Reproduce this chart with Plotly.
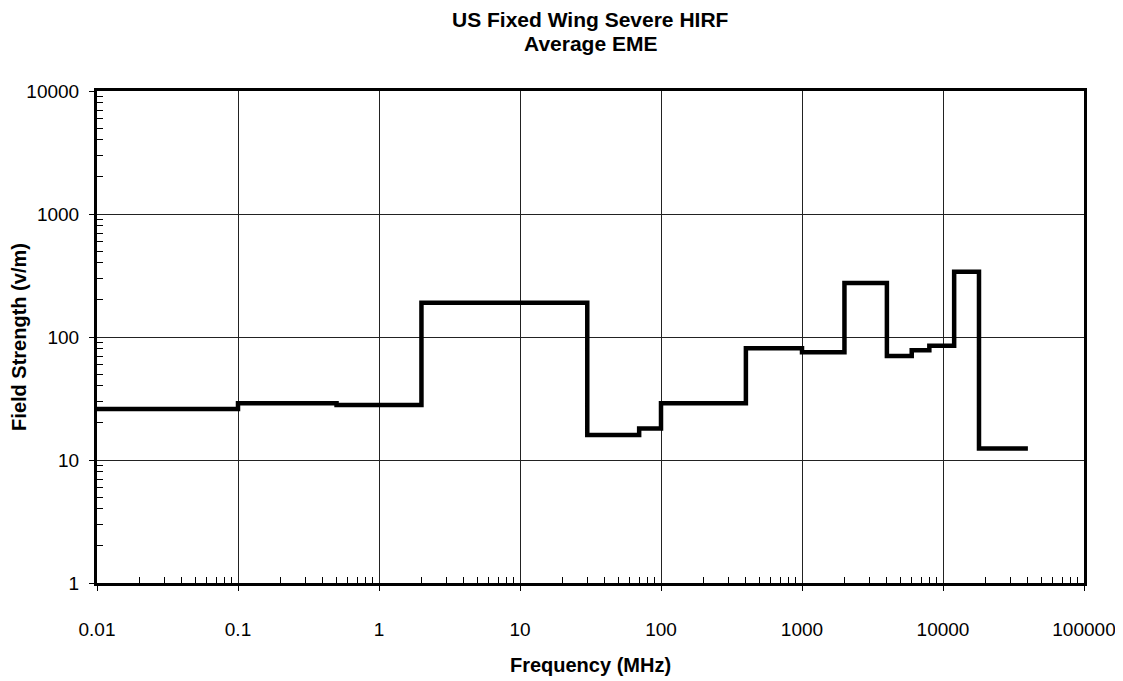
import plotly.graph_objects as go

# band edges (MHz) and average field strength (V/m) per band
band_start = [0.01, 0.1, 0.5, 2, 30, 70, 100, 400, 1000, 2000, 4000, 6000, 8000, 12000, 18000]
band_end = 40000
field_strength = [26, 29, 28, 190, 16, 18, 29, 81, 75, 275, 70, 78, 85, 340, 12.4]

x_ticks = [0.01, 0.1, 1, 10, 100, 1000, 10000, 100000]
x_tick_text = ['0.01', '0.1', '1', '10', '100', '1000', '10000', '100000']
y_ticks = [1, 10, 100, 1000, 10000]
y_tick_text = ['1', '10', '100', '1000', '10000']

# minor log ticks (2..9 in each decade)
x_minor = [m * 10.0 ** d for d in range(-2, 5) for m in range(2, 10)]
y_minor = [m * 10.0 ** d for d in range(0, 4) for m in range(2, 10)]

x = band_start + [band_end]
y = field_strength + [field_strength[-1]]

fig = go.Figure()
fig.add_trace(go.Scatter(
    x=x, y=y,
    mode='lines',
    line=dict(color='black', width=4.5, shape='hv'),
    showlegend=False
))

font = dict(family='Liberation Sans, Arial, sans-serif', color='black')

fig.update_layout(
    width=1123, height=681,
    paper_bgcolor='white', plot_bgcolor='white',
    margin=dict(l=89, r=47, t=83, b=106),
    font=dict(size=19, **font),
)

# two-line title as annotations above the plot
fig.add_annotation(text='<b>US Fixed Wing Severe HIRF</b>', xref='paper', yref='paper',
                   x=0.5, y=1.146, xanchor='center', yanchor='middle', showarrow=False,
                   font=dict(size=21, **font))
fig.add_annotation(text='<b>Average EME</b>', xref='paper', yref='paper',
                   x=0.5, y=1.096, xanchor='center', yanchor='middle', showarrow=False,
                   font=dict(size=21, **font))

fig.update_xaxes(
    type='log', range=[-2, 5], automargin=False,
    tickvals=x_ticks, ticktext=x_tick_text,
    ticks='outside', ticklen=5, tickcolor='black', tickwidth=1,
    ticklabelstandoff=22,
    tickfont=dict(size=19, **font),
    showgrid=True, gridcolor='#222', gridwidth=1,
    showline=True, linecolor='black', linewidth=3, mirror=True,
    minor=dict(tickvals=x_minor, ticks='inside', ticklen=6, tickcolor='black', showgrid=False),
    title=dict(text='<b>Frequency (MHz)</b>', standoff=20, font=dict(size=20, **font)),
    zeroline=False,
)
fig.update_yaxes(
    type='log', range=[0, 4], automargin=False,
    tickvals=y_ticks, ticktext=y_tick_text,
    ticks='outside', ticklen=5, tickcolor='black', tickwidth=1,
    ticklabelstandoff=6,
    tickfont=dict(size=19, **font),
    showgrid=True, gridcolor='#222', gridwidth=1,
    showline=True, linecolor='black', linewidth=3, mirror=True,
    minor=dict(tickvals=y_minor, ticks='inside', ticklen=6, tickcolor='black', showgrid=False),
    title=dict(text='<b>Field Strength (v/m)</b>', standoff=1, font=dict(size=20, **font)),
    zeroline=False,
)

fig.write_html("out.html")
